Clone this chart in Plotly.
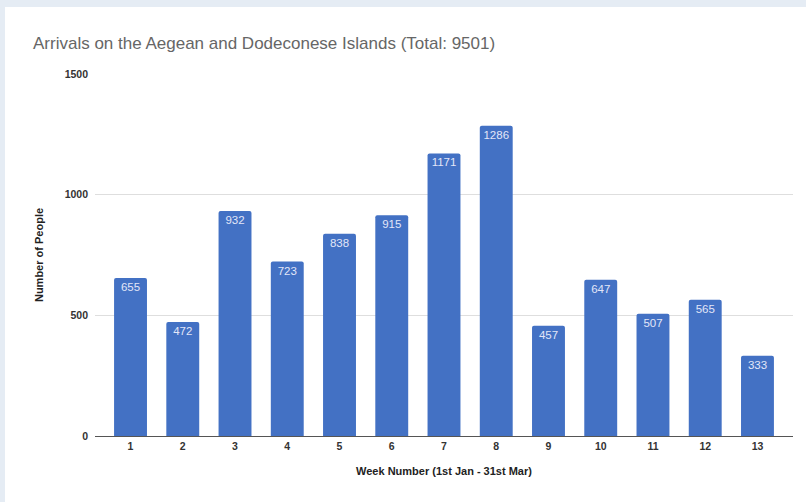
import plotly.graph_objects as go

weeks = list(range(1, 14))
arrivals = [655, 472, 932, 723, 838, 915, 1171, 1286, 457, 647, 507, 565, 333]
y_ticks = [0, 500, 1000, 1500]

L, R, T, B = 95, 13, 74, 66
W, H = 806, 502
pw, ph = W - L - R, H - T - B

fig = go.Figure(go.Bar(
    x=weeks, y=arrivals, width=0.63,
    marker=dict(color="#4371c4", line=dict(width=0)),
    text=[str(v) for v in arrivals], textposition="inside",
    insidetextanchor="end",
    textfont=dict(family="Liberation Sans, Arial", size=11.5, color="#e2e6f8"),
))

# white card over a pale blue backdrop, like the screenshot
fig.add_shape(type="rect", xref="paper", yref="paper", layer="below",
              x0=(5 - L) / pw, x1=(W - L) / pw,
              y0=(T + ph - H) / ph, y1=(T + ph - 7) / ph,
              fillcolor="white", line=dict(width=0))

fig.update_layout(
    width=W, height=H,
    margin=dict(l=L, r=R, t=T, b=B),
    paper_bgcolor="#e5ecf4", plot_bgcolor="white",
    barcornerradius=2,
    showlegend=False,
    title=dict(text="Arrivals on the Aegean and Dodeconese Islands (Total: 9501)",
               x=33 / W, xanchor="left", y=1 - 43 / H, yanchor="middle",
               font=dict(family="Liberation Sans, Arial", size=17, color="#666666")),
    font=dict(family="Liberation Sans, Arial", color="#333333"),
)
fig.update_xaxes(
    range=[0.32, 13.68], tickvals=weeks, showgrid=False,
    ticks="", tickfont=dict(size=10.5, weight="bold", color="#333333"),
    showline=True, linecolor="#555555", linewidth=1,
    title=dict(text="Week Number (1st Jan - 31st Mar)", standoff=16,
               font=dict(size=11, weight="bold", color="#222222")),
)
fig.update_yaxes(
    range=[0, 1500], tickvals=y_ticks, showgrid=True, gridcolor="#dedede",
    zeroline=False, ticks="", ticklabelstandoff=6,
    tickfont=dict(size=10.5, weight="bold", color="#333333"),
    title=dict(text="Number of People", standoff=18,
               font=dict(size=11, weight="bold", color="#222222")),
)

fig.write_html("out.html", config={"displayModeBar": False},
               post_script="document.body.style.margin='0';")
